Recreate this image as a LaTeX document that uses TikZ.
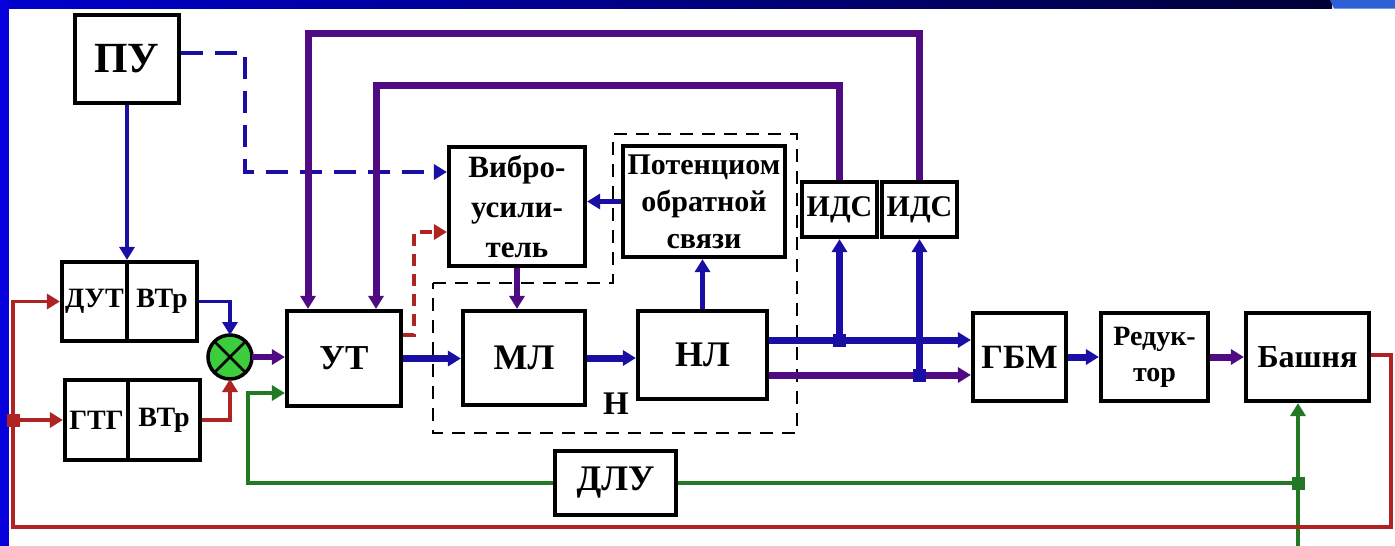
\documentclass[tikz,border=0pt]{standalone}
\usepackage{fontspec}
\setmainfont{Liberation Serif}
\usetikzlibrary{arrows.meta,calc}
\definecolor{bandL}{RGB}{0,0,205}
\definecolor{bandR}{RGB}{0,0,55}
\definecolor{bandTR}{RGB}{45,95,215}
\definecolor{bandSide}{RGB}{5,0,220}
\definecolor{cblue}{RGB}{25,15,165}
\definecolor{cpurp}{RGB}{80,10,130}
\definecolor{cred}{RGB}{175,35,35}
\definecolor{cgreen}{RGB}{35,120,35}
\definecolor{sumfill}{RGB}{60,205,60}
\tikzset{
  box/.style={draw=black, line width=4.2pt, fill=white, inner sep=0pt, align=center},
  arr/.style={-{Triangle[length=13pt,width=15pt]}},
  bline/.style={cblue, line width=3.8pt},
  rline/.style={cred, line width=3.8pt},
  gline/.style={cgreen, line width=3.8pt},
  thickblue/.style={cblue, line width=7pt},
  thickpurp/.style={cpurp, line width=7pt},
  medpurp/.style={cpurp, line width=5.5pt},
  jdot/.style={rectangle, minimum size=13pt, inner sep=0pt},
  txt/.style={font=\fontsize{#1}{#1}\selectfont\bfseries}
}
\begin{document}
\begin{tikzpicture}[x=1pt,y=-1pt]
\useasboundingbox (0,0) rectangle (1395,546);
\fill[white] (0,0) rectangle (1395,546);
\shade[left color=bandL, right color=bandR] (0,0) rectangle (1332,8.5);
\fill[bandTR] (1330,0) -- (1395,0) -- (1395,8.5) -- (1334,8.5) -- cycle;
\fill[bandSide] (0,0) rectangle (8.5,546);

% dashed group
\draw[black, line width=2.3pt, dash pattern=on 13pt off 9pt] (433,283) -- (613,283) -- (613,134) -- (797,134) -- (797,433) -- (433,433) -- cycle;
\node[txt=33] (hlab) at (616,404) {Н};

% coordinates
\coordinate (pvA) at (245,53);
\coordinate (pvB) at (245,172);
\coordinate (rdA) at (414,335);
\coordinate (rdB) at (414,232);
\coordinate (gB) at (1298,546);
\coordinate (gJ) at (1298,483);
\coordinate (gL) at (248,483);
\coordinate (gU) at (248,393);
\coordinate (rTR) at (1391,355);
\coordinate (rBR) at (1391,527);
\coordinate (rBL) at (13,527);
\coordinate (rTL) at (13,301.5);
\coordinate (rJ) at (13,420);
\coordinate (j1) at (839.5,340);
\coordinate (j2) at (919.5,375);
\coordinate (f1a) at (839.5,85);
\coordinate (f1b) at (376,85);
\coordinate (f2a) at (919.5,33);
\coordinate (f2b) at (308,33);

% nodes
\node[box, minimum width=104pt, minimum height=88pt, txt=43] (pu) at (127,59) {ПУ};
\node[box, minimum width=65pt, minimum height=79pt, txt=28] (dut) at (94.5,301.5) {ДУТ};
\node[box, minimum width=70pt, minimum height=79pt, txt=28] (vtr1) at (162,301.5) {ВТр};
\node[box, minimum width=63pt, minimum height=80pt, txt=28] (gtg) at (96.5,420) {ГТГ};
\node[box, minimum width=72pt, minimum height=80pt, txt=28] (vtr2) at (164,420) {ВТр};
\node[circle, draw=black, line width=3.5pt, fill=sumfill, minimum size=44pt, inner sep=0pt, outer sep=0pt] (sum) at (230,357) {};
\draw[black, line width=2.8pt] (sum.north east) -- (sum.south west) (sum.north west) -- (sum.south east);
\node[box, minimum width=114pt, minimum height=95pt, txt=35] (ut) at (344,358.5) {УТ};
\node[box, minimum width=136pt, minimum height=119pt, font=\fontsize{31}{40}\selectfont\bfseries] (vibro) at (517,206.5) {Вибро-\\усили-\\тель};
\node[box, minimum width=162pt, minimum height=111pt, font=\fontsize{30}{37}\selectfont\bfseries] (pot) at (704,201.5) {Потенциом\\обратной\\связи};
\node[box, minimum width=122pt, minimum height=94pt, txt=36] (ml) at (524,358) {МЛ};
\node[box, minimum width=129pt, minimum height=88pt, txt=36] (nl) at (702.5,355) {НЛ};
\node[box, minimum width=75pt, minimum height=55pt, txt=30] (ids1) at (839.5,209.5) {ИДС};
\node[box, minimum width=75pt, minimum height=55pt, txt=30] (ids2) at (919.5,209.5) {ИДС};
\node[box, minimum width=93pt, minimum height=88pt, txt=34] (gbm) at (1019.5,357) {ГБМ};
\node[box, minimum width=107pt, minimum height=88pt, font=\fontsize{28}{36}\selectfont\bfseries] (red) at (1154.5,357) {Редук-\\тор};
\node[box, minimum width=123pt, minimum height=88pt, txt=32] (bash) at (1307.5,357) {Башня};
\node[box, minimum width=121pt, minimum height=64pt, txt=36] (dlu) at (615.5,483) {ДЛУ};

% connectors
\draw[bline, arr] (pu.south) -- (pu.south |- dut.north);
\draw[cblue, line width=4.2pt, dash pattern=on 22pt off 12pt, arr] (pu.east |- pvA) -- (pvA) -- (pvB) -- (vibro.west |- pvB);
\draw[bline, arr] (vtr1.east) -| (sum.north);
\draw[rline, arr] (vtr2.east) -| (sum.south);
\draw[medpurp, arr] (sum.east) -- (sum.east -| ut.west);
\draw[cred, line width=3.8pt, dash pattern=on 12pt off 8pt, arr] (ut.east |- rdA) -- (rdA) -- (rdB) -- (vibro.west |- rdB);
\draw[thickblue, arr] (ut.east) -- (ut.east -| ml.west);
\draw[medpurp, arr] (vibro.south) -- (vibro.south |- ml.north);
\draw[thickblue, arr] (ml.east) -- (ml.east -| nl.west);
\draw[bline, line width=4.5pt, arr] (nl.north) -- (nl.north |- pot.south);
\draw[bline, line width=4.5pt, arr] (pot.west) -- (pot.west -| vibro.east);
\draw[thickblue, arr] (nl.east |- j1) -- (gbm.west |- j1);
\draw[thickpurp, arr] (nl.east |- j2) -- (gbm.west |- j2);
\draw[thickblue, arr] (j1) -- (ids1.south);
\draw[thickblue, arr] (j2) -- (ids2.south);
\draw[thickpurp, arr] (ids1.north) -- (f1a) -- (f1b) -- (f1b |- ut.north);
\draw[thickpurp, arr] (ids2.north) -- (f2a) -- (f2b) -- (f2b |- ut.north);
\draw[thickblue, arr] (gbm.east) -- (red.west);
\draw[thickpurp, arr] (red.east) -- (bash.west);
\draw[gline, arr] (gB) -- (gJ) -- (gJ |- bash.south);
\draw[gline] (gJ) -- (dlu.east);
\draw[gline, arr] (dlu.west) -- (gL) -- (gU) -- (ut.west |- gU);
\draw[rline, arr] (bash.east |- rTR) -- (rTR) -- (rBR) -- (rBL) -- (rTL) -- (dut.west);
\draw[rline, arr] (rJ) -- (gtg.west);

% junction dots
\node[jdot, fill=cblue] (d1) at (j1) {};
\node[jdot, fill=cblue] (d2) at (j2) {};
\node[jdot, fill=cgreen] (d3) at (gJ) {};
\node[jdot, fill=cred] (d4) at (rJ) {};
\end{tikzpicture}
\end{document}
